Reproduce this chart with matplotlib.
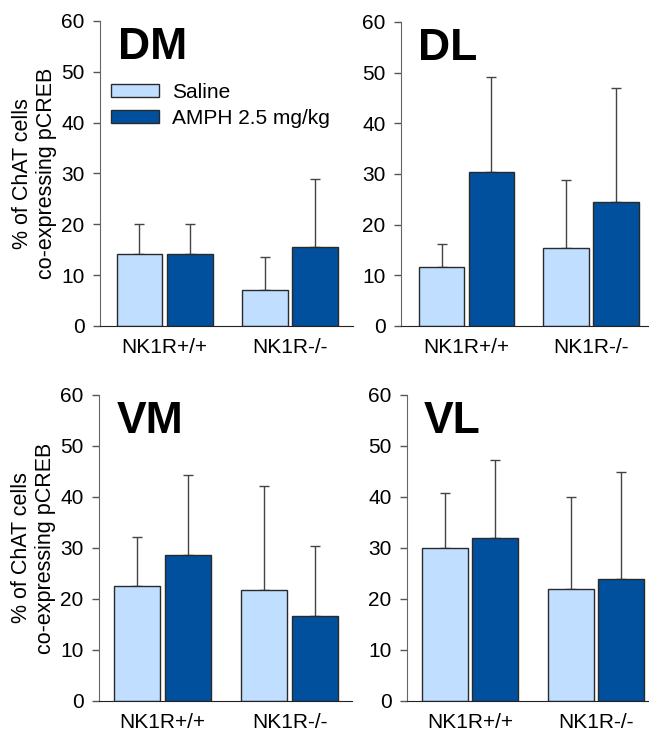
import numpy as np
import matplotlib
matplotlib.use("Agg")
import matplotlib.pyplot as plt

plt.rcParams['font.family'] = ['Liberation Sans', 'DejaVu Sans']

# data
genotypes = ["NK1R+/+", "NK1R-/-"]
groups = ["Saline", "AMPH 2.5 mg/kg"]
regions = ["DM", "DL", "VM", "VL"]

saline_mean = {"DM": [14.2, 7.0], "DL": [11.7, 15.3], "VM": [22.6, 21.7], "VL": [29.9, 22.0]}
saline_sem = {"DM": [5.8, 6.6], "DL": [4.5, 13.6], "VM": [9.5, 20.4], "VL": [10.9, 18.0]}
amph_mean = {"DM": [14.2, 15.5], "DL": [30.3, 24.4], "VM": [28.7, 16.6], "VL": [32.0, 24.0]}
amph_sem = {"DM": [5.8, 13.5], "DL": [18.8, 22.6], "VM": [15.7, 13.8], "VL": [15.3, 20.8]}

yticks = [0, 10, 20, 30, 40, 50, 60]
ylabel = "% of ChAT cells\nco-expressing pCREB"

light = "#C0DEFF"
dark = "#00509E"

# axes rectangles and x-limits for each panel
rects = {"DM": [0.1541, 0.5553, 0.3898, 0.4161],
         "DL": [0.6179, 0.5553, 0.3821, 0.4147],
         "VM": [0.1525, 0.0437, 0.3898, 0.4175],
         "VL": [0.6271, 0.0437, 0.3729, 0.4175]}
xlims = {"DM": (-0.514, 1.502), "DL": (-0.526, 1.466),
         "VM": (-0.5, 1.49), "VL": (-0.5, 1.42)}


def drawPanel(fig, region):
    ax = fig.add_axes(rects[region])
    x = np.arange(len(genotypes))
    w = 0.365
    off = 0.2
    means = [saline_mean[region], amph_mean[region]]
    sems = [saline_sem[region], amph_sem[region]]
    cols = [light, dark]
    for i in range(2):
        xs = x + (i * 2 - 1) * off
        ax.bar(xs, means[i], width=w, color=cols[i], edgecolor="#2a2a2a",
               linewidth=1.0, label=groups[i], zorder=2)
        ax.errorbar(xs, means[i], yerr=[np.zeros(len(x)), sems[i]], fmt="none",
                    ecolor="#444444", elinewidth=1.0, capsize=3.5, capthick=1.0,
                    zorder=1)
    ax.set_ylim(0, 60)
    ax.set_xlim(*xlims[region])
    ax.set_yticks(yticks)
    ax.set_xticks(x)
    ax.set_xticklabels(genotypes)
    ax.tick_params(axis="y", direction="out", length=5, width=1,
                   color="#555555", labelsize=15, pad=6)
    ax.tick_params(axis="x", length=0, labelsize=15, pad=9)
    ax.spines["top"].set_visible(False)
    ax.spines["right"].set_visible(False)
    ax.spines["left"].set_color("#666666")
    ax.spines["bottom"].set_color("#222222")
    ax.text(0.07, 0.875, region, transform=ax.transAxes, fontsize=32,
            fontweight="bold", ha="left", va="baseline")
    if region in ("DM", "VM"):
        ax.set_ylabel(ylabel, fontsize=15.5, linespacing=1.2, labelpad=3)
    if region == "DM":
        ax.legend(loc="upper left", bbox_to_anchor=(0.045, 0.797), frameon=False,
                  fontsize=15, handlelength=2.3, handleheight=0.6,
                  handletextpad=0.6, labelspacing=0.35, borderpad=0,
                  borderaxespad=0)
    return ax


fig = plt.figure(figsize=(6.49, 7.33), dpi=100)
for r in regions:
    drawPanel(fig, r)
fig.savefig("out.png", dpi=100)
